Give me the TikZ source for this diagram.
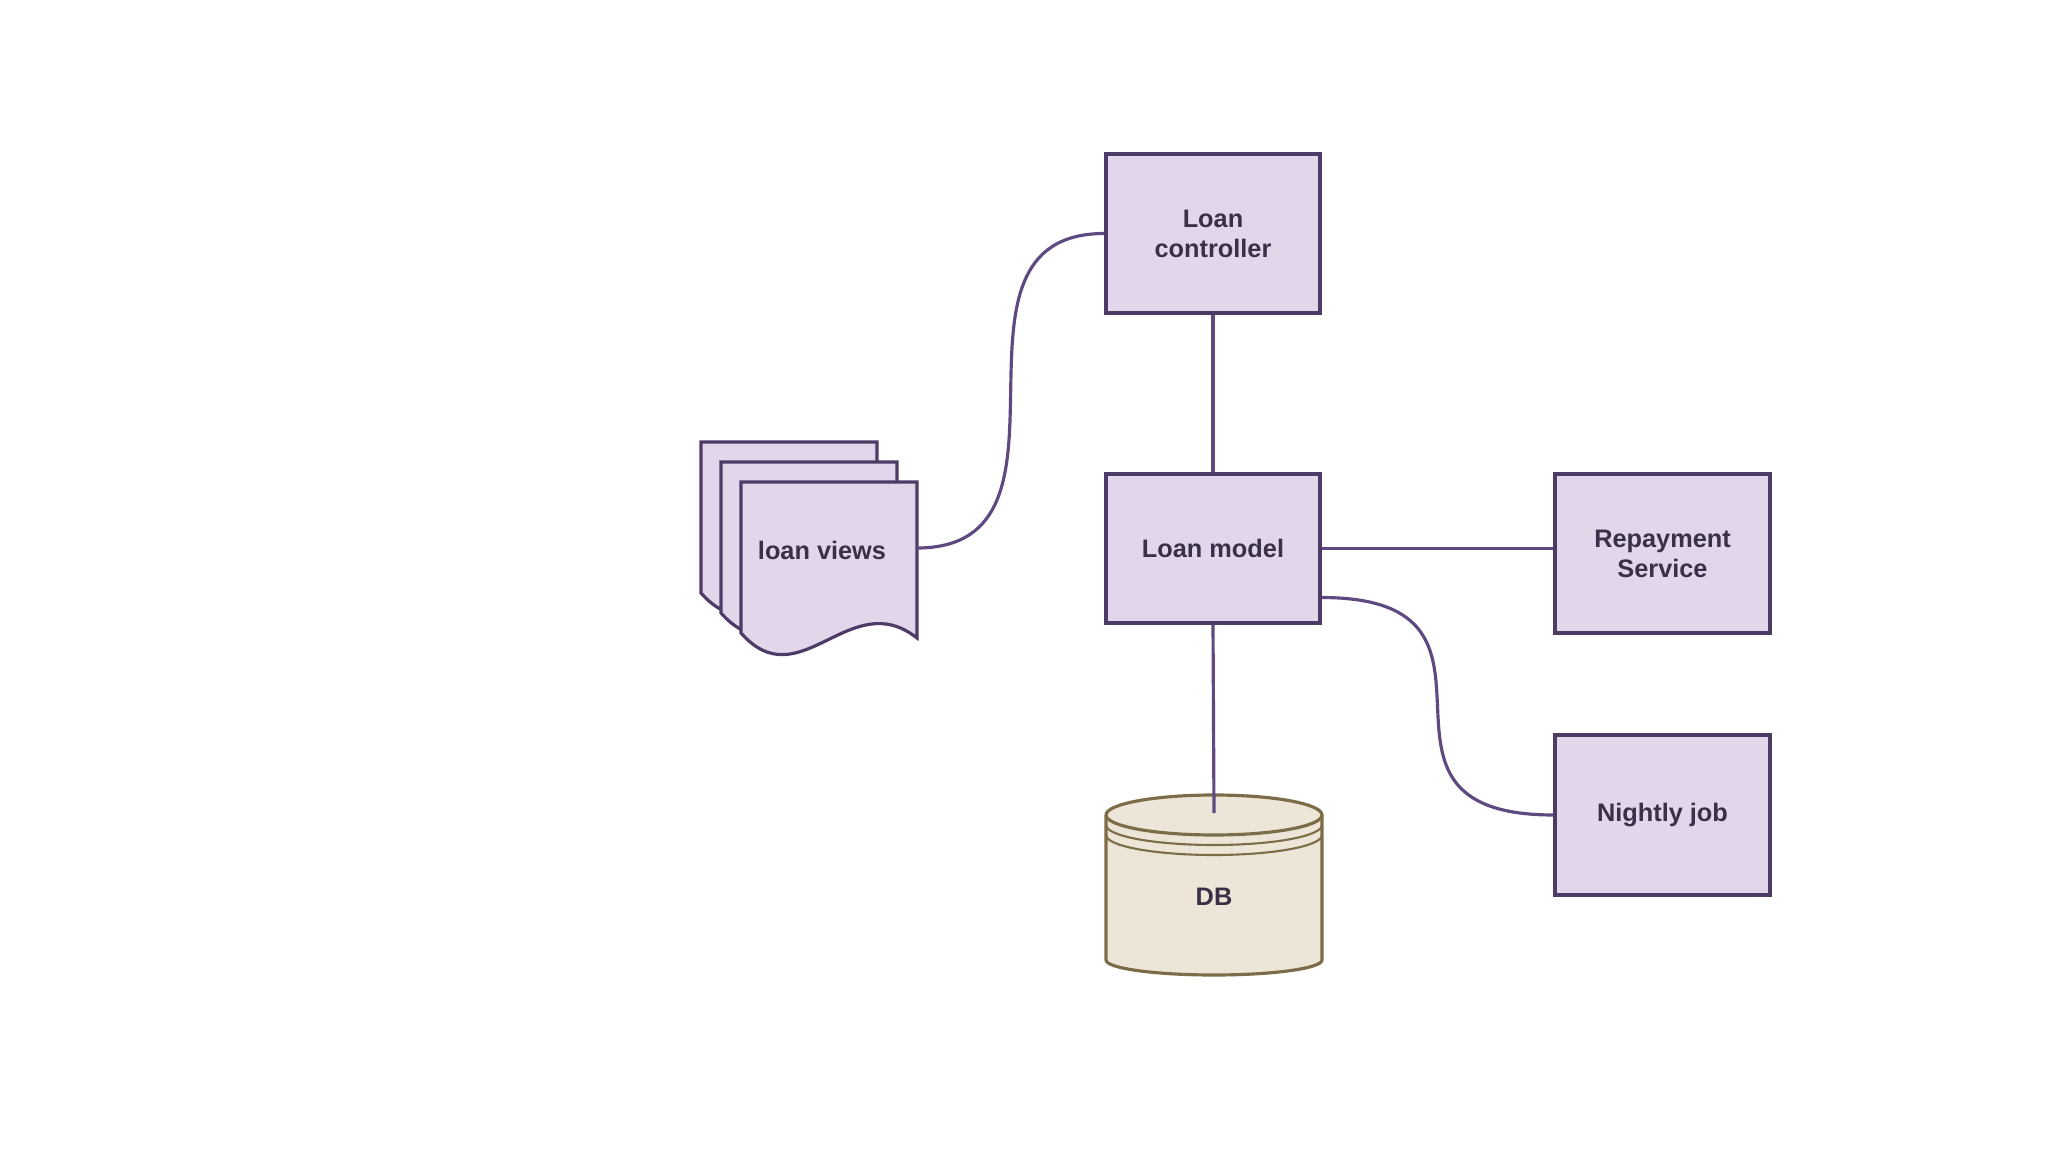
\documentclass[tikz,border=0pt]{standalone}
\usepackage{fontspec}
\setmainfont{Liberation Sans}
\definecolor{boxfill}{HTML}{E2D6EA}
\definecolor{boxline}{HTML}{4D3A66}
\definecolor{conn}{HTML}{5E4A80}
\definecolor{txt}{HTML}{3A3048}
\definecolor{dbfill}{HTML}{ECE5D8}
\definecolor{dbline}{HTML}{7D6C48}
\begin{document}
\begin{tikzpicture}[x=0.01cm,y=-0.01cm,
  box/.style={draw=boxline, fill=boxfill, line width=0.9pt, minimum width=2.14cm,
    inner sep=0pt, font=\fontsize{7.2}{8.5}\selectfont\bfseries, text=txt, align=center},
  lbl/.style={inner sep=0pt, font=\fontsize{7.2}{8.5}\selectfont\bfseries, text=txt, align=center},
  page/.style={draw=boxline, fill=boxfill, line width=0.9pt, line join=miter},
  link/.style={draw=conn, line width=0.9pt}]
\fill[white] (0,0) rectangle (2048,1152);

% nodes
\node[box, minimum height=1.59cm] (ctrl) at (1213,233.5) {Loan\\controller};
\node[box, minimum height=1.49cm] (model) at (1213,548.5) {Loan model};
\node[box, minimum width=2.15cm, minimum height=1.59cm] (rep) at (1662.5,553.5) {Repayment\\Service};
\node[box, minimum width=2.15cm, minimum height=1.60cm] (night) at (1662.5,815) {Nightly job};

% loan views (stack of documents)
\begin{scope}[shift={(-40,-40)}]
  \path[page] (741,482) -- (917,482) -- (917,638) .. controls (850,585) and (800,700) .. (741,633) -- cycle;
\end{scope}
\begin{scope}[shift={(-20,-20)}]
  \path[page] (741,482) -- (917,482) -- (917,638) .. controls (850,585) and (800,700) .. (741,633) -- cycle;
\end{scope}
\path[page] (741,482) -- (917,482) -- (917,638) .. controls (850,585) and (800,700) .. (741,633) -- cycle;
\node[lbl] (views) at (822,550) {loan views};
\coordinate (viewsout) at (917,548);

% DB cylinder
\path[draw=dbline, fill=dbfill, line width=0.9pt]
  (1106,815) -- (1106,960) arc[start angle=180, end angle=0, x radius=108, y radius=15]
  -- (1322,815) arc[start angle=0, end angle=-180, x radius=108, y radius=20];
\draw[dbline, line width=0.9pt] (1106,815) arc[start angle=180, end angle=0, x radius=108, y radius=20];
\draw[dbline, line width=0.6pt] (1106,825) arc[start angle=180, end angle=0, x radius=108, y radius=20];
\draw[dbline, line width=0.6pt] (1106,835) arc[start angle=180, end angle=0, x radius=108, y radius=20];
\node[lbl] (db) at (1214,897) {DB};
\coordinate (dbtop) at (1214,813);

% connectors
\path[link] (viewsout) .. controls +(182,0) and +(-182,0) .. (ctrl.west);
\path[link] (ctrl.south) -- (model.north);
\path[link] (model.east) -- (model.east -| rep.west);
\coordinate (mo) at ([yshift=-0.49cm]model.east);
\path[link] (mo) .. controls +(222,0) and +(-222,0) .. (night.west);
\path[link] (model.south) -- (dbtop);
\end{tikzpicture}
\end{document}
